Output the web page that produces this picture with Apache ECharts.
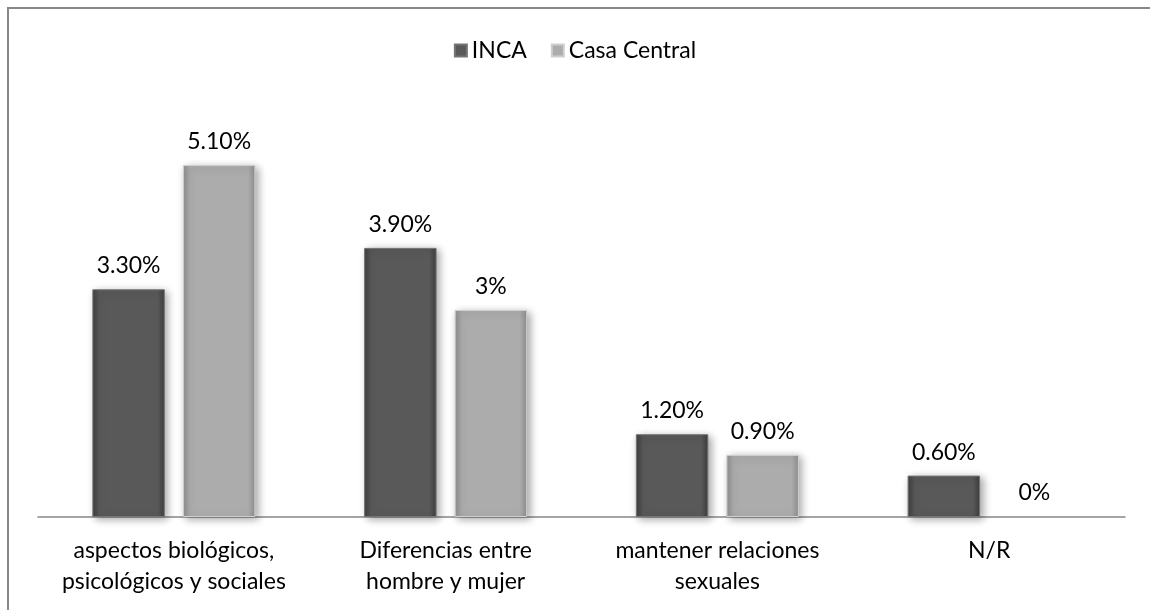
<!DOCTYPE html>
<html>
<head>
<meta charset="utf-8">
<script src="https://cdn.jsdelivr.net/npm/echarts@6/dist/echarts.min.js"></script>
<style>
  html, body { margin: 0; padding: 0; background: #fff; }
  #chart { width: 1150px; height: 610px; }
</style>
</head>
<body>
<div id="chart"></div>
<script>
// 数据
var categories = ['aspectos biológicos,\npsicológicos y sociales', 'Diferencias entre\nhombre y mujer', 'mantener relaciones\nsexuales', 'N/R'];
var incaValues = [3.3, 3.9, 1.2, 0.6];
var casaValues = [5.1, 3.0, 0.9, 0];
var incaLabels = ['3.30%', '3.90%', '1.20%', '0.60%'];
var casaLabels = ['5.10%', '3%', '0.90%', '0%'];

var chart = echarts.init(document.getElementById('chart'));

// 斜面效果的渐变
function bevel(c1, c2) {
  return new echarts.graphic.LinearGradient(0, 0, 1, 0, [
    { offset: 0, color: c2 },
    { offset: 0.1, color: c1 },
    { offset: 0.9, color: c1 },
    { offset: 1, color: c2 }
  ]);
}

// 值为0的柱子不画阴影
function toData(values) {
  return values.map(function (v) {
    return v === 0 ? { value: v, itemStyle: { opacity: 0 } } : v;
  });
}

var font = 'Lato, "Open Sans", sans-serif';
var fs = 23;

var option = {
  animation: false,
  textStyle: { fontFamily: font },
  graphic: [{
    type: 'rect',
    shape: { x: 8, y: 8, width: 1200, height: 700 },
    style: { fill: 'none', stroke: '#888', lineWidth: 2 },
    silent: true
  }],
  legend: {
    top: 34,
    left: 'center',
    icon: 'rect',
    itemWidth: 12,
    itemHeight: 12,
    itemGap: 24,
    textStyle: { fontSize: fs, color: '#000', fontFamily: font },
    data: ['INCA', 'Casa Central']
  },
  grid: { left: 38, right: 25, top: 103, bottom: 93 },
  xAxis: {
    type: 'category',
    data: categories,
    axisLine: { lineStyle: { color: '#888', width: 1.5 } },
    axisTick: { show: false },
    axisLabel: { interval: 0, fontSize: fs, color: '#000', lineHeight: 31, margin: 18, fontFamily: font }
  },
  yAxis: {
    type: 'value',
    min: 0,
    max: 6,
    show: false,
    splitLine: { show: false }
  },
  series: [{
    name: 'INCA',
    type: 'bar',
    data: toData(incaValues),
    barGap: '25%',
    barCategoryGap: '40%',
    itemStyle: {
      color: bevel('#595959', '#3e3e3e'),
      borderColor: '#747474',
      borderWidth: 1,
      shadowColor: 'rgba(0,0,0,0.35)',
      shadowBlur: 8,
      shadowOffsetX: 3,
      shadowOffsetY: 2
    },
    label: {
      show: true,
      position: 'top',
      distance: 12,
      fontSize: fs,
      color: '#000',
      fontFamily: font,
      formatter: function (p) { return incaLabels[p.dataIndex]; }
    }
  }, {
    name: 'Casa Central',
    type: 'bar',
    data: toData(casaValues),
    itemStyle: {
      color: bevel('#acacac', '#8e8e8e'),
      borderColor: '#cfcfcf',
      borderWidth: 1,
      shadowColor: 'rgba(0,0,0,0.35)',
      shadowBlur: 8,
      shadowOffsetX: 3,
      shadowOffsetY: 2
    },
    label: {
      show: true,
      position: 'top',
      distance: 12,
      fontSize: fs,
      color: '#000',
      opacity: 1,
      fontFamily: font,
      formatter: function (p) { return casaLabels[p.dataIndex]; }
    }
  }]
};

chart.setOption(option);
</script>
</body>
</html>
